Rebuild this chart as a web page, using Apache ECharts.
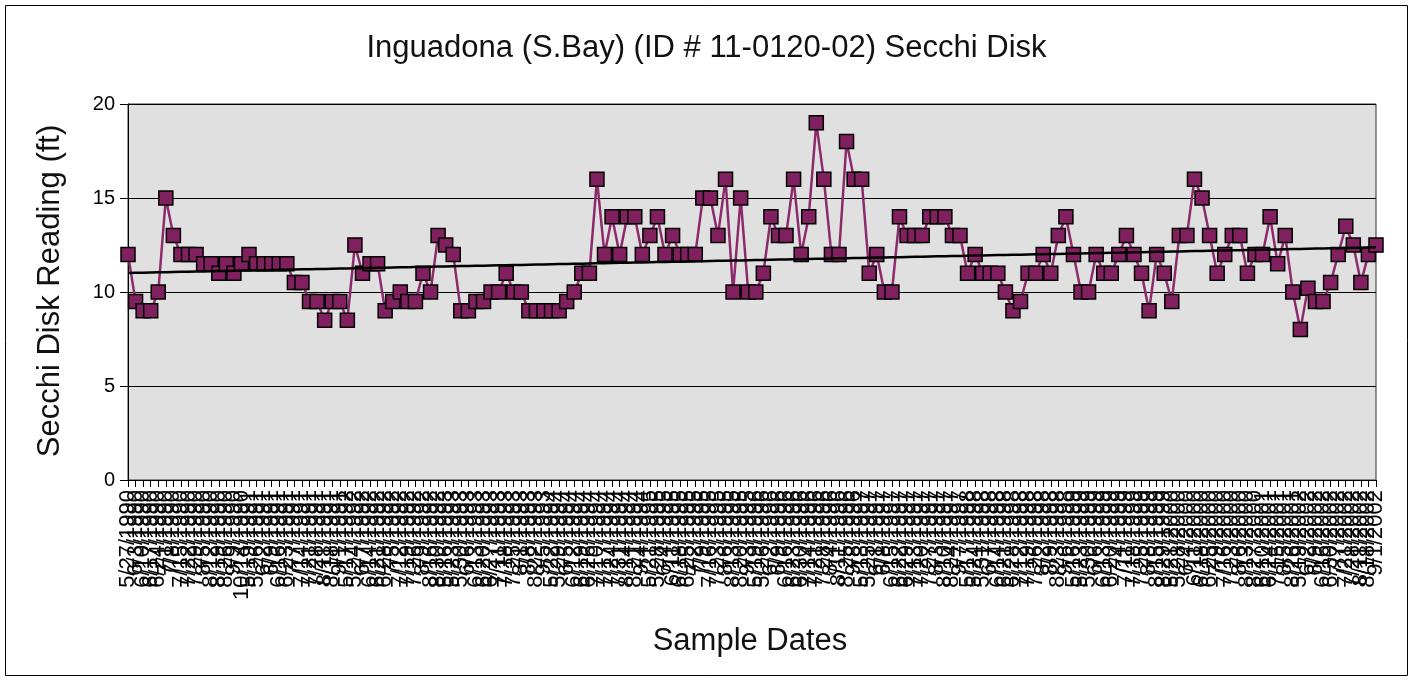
<!DOCTYPE html>
<html>
<head>
<meta charset="utf-8">
<script src="https://cdn.jsdelivr.net/npm/echarts@6/dist/echarts.min.js"></script>
<style>
html,body{margin:0;padding:0;background:#fff;}
#chart{width:1413px;height:681px;}
</style>
</head>
<body>
<div id="chart"></div>
<script>
const chartTitle = "Inguadona (S.Bay) (ID # 11-0120-02) Secchi Disk";
const yAxisTitle = "Secchi Disk Reading (ft)";
const xAxisTitle = "Sample Dates";
const yTickValues = [0, 5, 10, 15, 20];

const sampleDates = [
"5/27/1990","6/3/1990","6/10/1990","6/17/1990","6/24/1990","7/1/1990","7/8/1990","7/15/1990","7/22/1990","7/29/1990","8/5/1990","8/12/1990","8/19/1990","8/26/1990","9/9/1990","10/14/1990",
"5/19/1991","5/26/1991","6/2/1991","6/9/1991","6/16/1991","6/23/1991","7/7/1991","7/14/1991","7/21/1991","7/28/1991","8/11/1991","8/18/1991","9/1/1991",
"5/17/1992","5/24/1992","6/7/1992","6/14/1992","6/21/1992","6/28/1992","7/5/1992","7/12/1992","7/19/1992","7/26/1992","8/9/1992","8/16/1992","8/30/1992",
"5/16/1993","5/23/1993","5/30/1993","6/6/1993","6/13/1993","6/20/1993","6/27/1993","7/11/1993","7/18/1993","7/25/1993","8/1/1993","8/8/1993","8/22/1993","9/5/1993",
"5/22/1994","5/29/1994","6/5/1994","6/12/1994","6/19/1994","6/26/1994","7/10/1994","7/17/1994","7/24/1994","7/31/1994","8/14/1994","8/21/1994","9/4/1994",
"5/21/1995","5/28/1995","6/4/1995","6/11/1995","6/18/1995","6/25/1995","7/2/1995","7/9/1995","7/16/1995","7/23/1995","8/6/1995","8/13/1995","8/20/1995","9/3/1995",
"5/19/1996","5/26/1996","6/2/1996","6/9/1996","6/16/1996","6/23/1996","6/30/1996","7/14/1996","7/21/1996","7/28/1996","8/4/1996","8/11/1996","8/25/1996","9/8/1996",
"5/18/1997","5/25/1997","6/1/1997","6/8/1997","6/15/1997","6/22/1997","6/29/1997","7/13/1997","7/20/1997","7/27/1997","8/3/1997","8/10/1997","8/24/1997","9/7/1997",
"5/17/1998","5/24/1998","5/31/1998","6/7/1998","6/14/1998","6/21/1998","6/28/1998","7/12/1998","7/19/1998","7/26/1998","8/2/1998","8/9/1998","8/23/1998","9/6/1998",
"5/16/1999","5/23/1999","5/30/1999","6/6/1999","6/13/1999","6/20/1999","7/4/1999","7/11/1999","7/18/1999","7/25/1999","8/8/1999","8/15/1999","8/29/1999",
"5/21/2000","5/28/2000","6/4/2000","6/11/2000","6/18/2000","6/25/2000","7/9/2000","7/16/2000","7/23/2000","8/6/2000","8/13/2000","8/27/2000",
"6/10/2001","6/24/2001","7/15/2001","8/5/2001","8/26/2001",
"5/19/2002","6/2/2002","6/9/2002","6/16/2002","6/30/2002","7/7/2002","7/21/2002","7/28/2002","8/11/2002","8/18/2002","9/1/2002"
];

const secchiFt = [
12, 9.5, 9, 9, 10, 15, 13, 12, 12, 12,
11.5, 11.5, 11, 11.5, 11, 11.5, 12, 11.5, 11.5, 11.5,
11.5, 11.5, 10.5, 10.5, 9.5, 9.5, 8.5, 9.5, 9.5, 8.5,
12.5, 11, 11.5, 11.5, 9, 9.5, 10, 9.5, 9.5, 11,
10, 13, 12.5, 12, 9, 9, 9.5, 9.5, 10, 10,
11, 10, 10, 9, 9, 9, 9, 9, 9.5, 10,
11, 11, 16, 12, 14, 12, 14, 14, 12, 13,
14, 12, 13, 12, 12, 12, 15, 15, 13, 16,
10, 15, 10, 10, 11, 14, 13, 13, 16, 12,
14, 19, 16, 12, 12, 18, 16, 16, 11, 12,
10, 10, 14, 13, 13, 13, 14, 14, 14, 13,
13, 11, 12, 11, 11, 11, 10, 9, 9.5, 11,
11, 12, 11, 13, 14, 12, 10, 10, 12, 11,
11, 12, 13, 12, 11, 9, 12, 11, 9.5, 13,
13, 16, 15, 13, 11, 12, 13, 13, 11, 12,
12, 14, 11.5, 13, 10, 8, 10.2, 9.5, 9.5, 10.5,
12, 13.5, 12.5, 10.5, 12, 12.5
];

// linear trendline (least squares over sample index)
const n = secchiFt.length;
let sx = 0, sy = 0, sxx = 0, sxy = 0;
secchiFt.forEach((v, i) => { sx += i; sy += v; sxx += i * i; sxy += i * v; });
const slope = (n * sxy - sx * sy) / (n * sxx - sx * sx);
const intercept = (sy - slope * sx) / n;
const trend = secchiFt.map((v, i) => intercept + slope * i);

const FONT = '"Liberation Sans", Arial, sans-serif';
const chart = echarts.init(document.getElementById('chart'), null, {renderer: 'canvas'});
chart.setOption({
  animation: false,
  backgroundColor: '#ffffff',
  title: {
    text: chartTitle,
    left: 'center',
    top: 28,
    textStyle: {fontFamily: FONT, fontSize: 31, fontWeight: 'normal', color: '#111'}
  },
  grid: {
    left: 128, right: 37, top: 104, bottom: 201,
    show: true, backgroundColor: '#e0e0e0', borderColor: '#333', borderWidth: 1
  },
  xAxis: {
    type: 'category',
    data: sampleDates,
    boundaryGap: false,
    axisLine: {show: true, lineStyle: {color: '#000', width: 1}},
    axisTick: {show: true, interval: 0, length: 7, lineStyle: {color: '#000'}},
    axisLabel: {interval: 0, rotate: 90, margin: 10, fontFamily: FONT, fontSize: 22, color: '#000'},
    splitLine: {show: false}
  },
  yAxis: {
    type: 'value',
    min: yTickValues[0], max: yTickValues[yTickValues.length - 1], interval: 5,
    axisLine: {show: true, lineStyle: {color: '#000', width: 1}},
    axisTick: {show: true, length: 8, lineStyle: {color: '#000'}},
    axisLabel: {margin: 13, fontFamily: FONT, fontSize: 20, color: '#000'},
    splitLine: {show: true, lineStyle: {color: '#000', width: 1}}
  },
  graphic: [
    {type: 'rect', silent: true, shape: {x: 5.5, y: 5.5, width: 1402, height: 670},
     style: {fill: 'none', stroke: '#000', lineWidth: 1}, z: 100},
    {type: 'text', x: 50, y: 291, rotation: Math.PI / 2,
     style: {text: yAxisTitle, font: '31px ' + FONT, fill: '#111', align: 'center', verticalAlign: 'middle'}},
    {type: 'text', x: 750, y: 641,
     style: {text: xAxisTitle, font: '31px ' + FONT, fill: '#111', align: 'center', verticalAlign: 'middle'}}
  ],
  series: [
    {
      name: 'Secchi', type: 'line', data: secchiFt,
      symbol: 'rect', symbolSize: 14,
      lineStyle: {color: '#8c2a6c', width: 2.5},
      itemStyle: {color: '#80205e', borderColor: '#000', borderWidth: 1.5},
      z: 3
    },
    {
      name: 'Trend', type: 'line', data: trend,
      symbol: 'none',
      lineStyle: {color: '#000', width: 2.5},
      z: 5
    }
  ]
});
</script>
</body>
</html>
